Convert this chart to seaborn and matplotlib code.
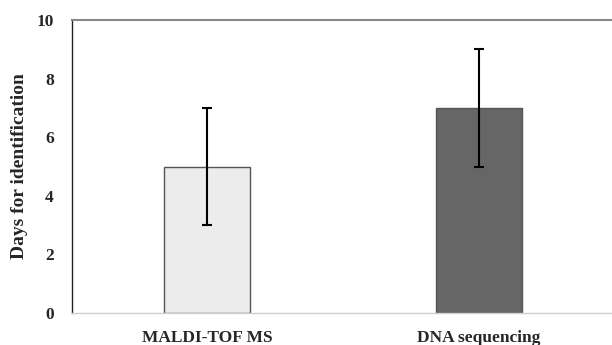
import matplotlib
matplotlib.use("Agg")
import matplotlib.pyplot as plt
import seaborn as sns
import pandas as pd
import numpy as np

categories = ["MALDI-TOF MS", "DNA sequencing"]
days = [5, 7]
errors = [2, 2]
colors = ["#ececec", "#666666"]

sns.set_style("white")
plt.rcParams["font.family"] = ["Liberation Serif", "DejaVu Serif"]

df = pd.DataFrame({"method": categories, "days": days})

fig = plt.figure(figsize=(6.12, 3.45), dpi=100)
ax = fig.add_axes([72/612, 32/345, 540/612, 293/345])

sns.barplot(data=df, x="method", y="days", hue="method", palette=colors,
            width=0.316, edgecolor="#555555", linewidth=1.0, legend=False, ax=ax,
            errorbar=None)
ax.errorbar(np.arange(len(categories)), days, yerr=errors, fmt="none",
            ecolor="black", elinewidth=1.5, capsize=3.5, capthick=1.5, zorder=5)

ax.set_xlim(-0.496, 1.489)
ax.set_ylim(0, 10)
ax.set_yticks([0, 2, 4, 6, 8, 10])
ax.set_xlabel("")
ax.set_ylabel("Days for identification", fontsize=14, fontweight="bold", labelpad=6)
ax.tick_params(axis="both", length=0, labelsize=12.5)
ax.tick_params(axis="y", pad=13)
ax.tick_params(axis="x", pad=12)
for lbl in ax.get_xticklabels() + ax.get_yticklabels():
    lbl.set_fontweight("bold")

ax.spines["left"].set_color("#222222")
ax.spines["left"].set_linewidth(1.0)
ax.spines["bottom"].set_color("#d0d0d0")
ax.spines["bottom"].set_linewidth(1.0)
ax.spines["top"].set_color("#888888")
ax.spines["top"].set_linewidth(1.5)
ax.spines["right"].set_visible(False)

fig.savefig("out.png", dpi=100)
